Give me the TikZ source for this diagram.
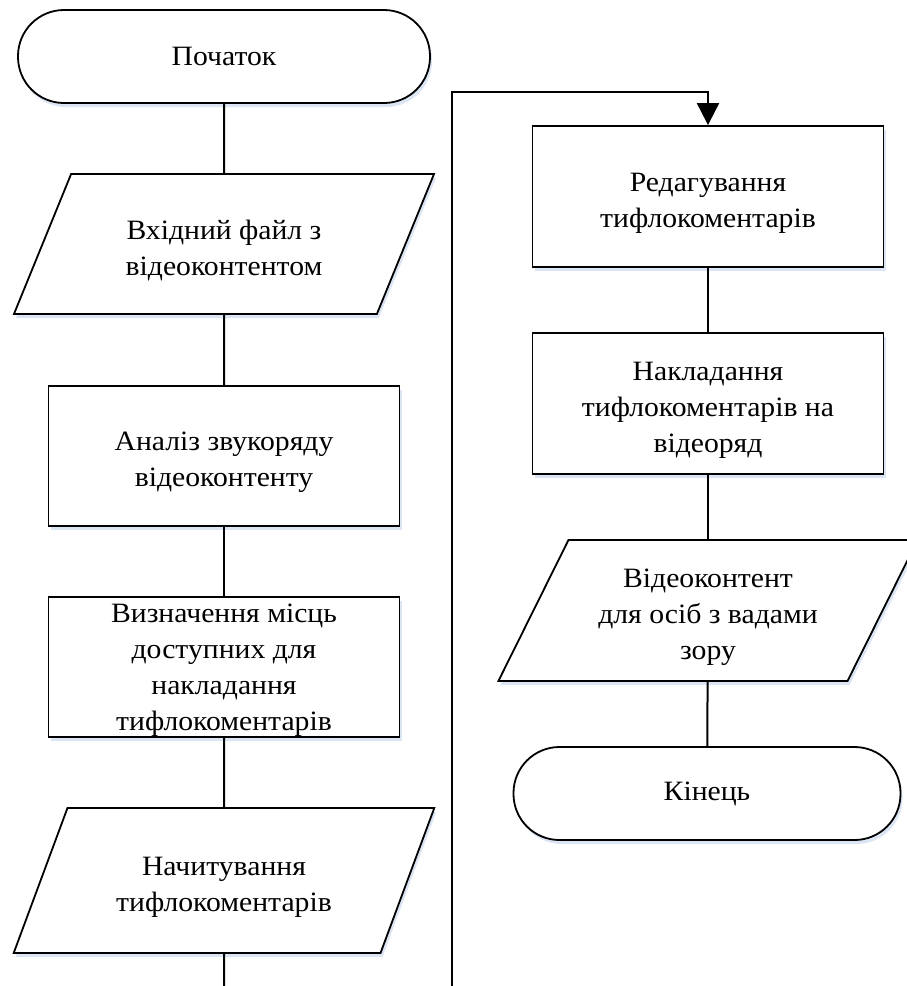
\documentclass[tikz,border=0pt]{standalone}
\usepackage{fontspec}
\setmainfont[FakeStretch=1.06]{Liberation Serif}
\usepackage{tikz}
\usetikzlibrary{calc}
\usetikzlibrary{shapes.geometric}
\usetikzlibrary{arrows.meta}
\usetikzlibrary{shadows}

\definecolor{shadowblue}{RGB}{205,218,238}
\newcommand{\uprule}{\rule{0pt}{32pt}} % lowers text a bit in its box

\tikzset{
    base/.style={draw, line width=1.8pt, fill=white, align=center,
        font=\fontsize{28}{36}\selectfont,
        drop shadow={shadow xshift=2pt, shadow yshift=-4pt, fill=shadowblue, opacity=0.7}},
    term/.style={base, rectangle, rounded corners=46pt, minimum height=93pt},
    proc/.style={base, rectangle, minimum width=351pt, minimum height=140pt},
    dataio/.style={base, trapezium, trapezium left angle=63.4, trapezium right angle=116.6,
        trapezium stretches=true, minimum width=421pt, minimum height=140pt, inner sep=0pt},
    flow/.style={line width=2pt}
}

\begin{document}
\begin{tikzpicture}[x=1pt, y=-1pt]
            % Frame of the picture
            \useasboundingbox (0,0) rectangle (907,986);

            % Left column
            \node[term, minimum width=412pt] (start) at (224, 56.5) {Початок};
            \node[dataio] (input) at (224, 244) {\uprule Вхідний файл з\\відеоконтентом};
            \node[proc] (analysis) at (224, 456) {\uprule Аналіз звукоряду\\відеоконтенту};
            \node[proc, inner ysep=0pt, text depth=0pt] (places) at (224, 667) {Визначення місць\\доступних для\\накладання\\тифлокоментарів};
            \node[dataio, minimum height=145pt] (record) at (224, 880.5) {\uprule Начитування\\тифлокоментарів};

            % Right column
            \node[proc, minimum height=141pt] (editing) at (708, 196.5) {\uprule Редагування\\тифлокоментарів};
            \node[proc, minimum height=141pt] (overlay) at (708, 403.5) {\uprule Накладання\\тифлокоментарів на\\відеоряд};
            \node[dataio, minimum height=141pt] (output) at (708, 610.5) {\uprule Відеоконтент\\для осіб з вадами\\зору};
            \node[term, minimum width=387pt] (finish) at (707, 793.5) {Кінець};

            % Free ends of the jump between columns
            \coordinate (leftEnd) at (224, 992);
            \coordinate (loopBottom) at (452, 992);
            \coordinate (loopTop) at (452, 92);

            % Draw connectors
            \draw[flow] (start) -- (input);
            \draw[flow] (input) -- (analysis);
            \draw[flow] (analysis) -- (places);
            \draw[flow] (places) -- (record);
            \draw[flow] (record) -- (leftEnd);
            \draw[flow, -{Triangle[width=22pt, length=22pt]}] (loopBottom) -- (loopTop) -| (editing.north);
            \draw[flow] (editing) -- (overlay);
            \draw[flow] (overlay) -- (output);
            \draw[flow] (output) -- (finish);

        \end{tikzpicture}
\end{document}
